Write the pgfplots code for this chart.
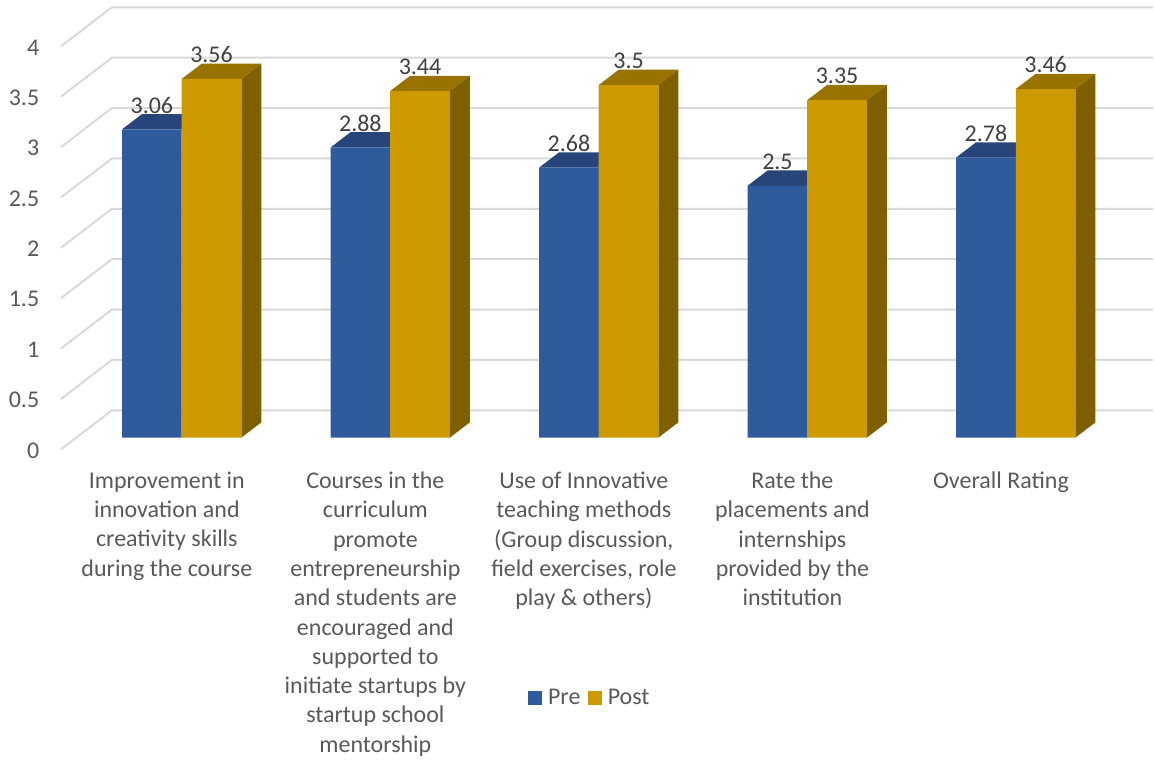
\documentclass[border=0pt]{standalone}
\usepackage{pgfplots}
\pgfplotsset{compat=1.18}
\usepackage{fontspec}
\setmainfont{Carlito}
\definecolor{preF}{HTML}{305A9E}
\definecolor{preT}{HTML}{27457A}
\definecolor{postF}{HTML}{CC9900}
\definecolor{postT}{HTML}{997300}
\definecolor{postS}{HTML}{7F6000}
\definecolor{gridc}{HTML}{D9D9D9}
\definecolor{tickc}{HTML}{595959}
\definecolor{labc}{HTML}{404040}
\newcommand\topface[3]{%
  \pgfmathsetmacro\xa{#1-29.85}\pgfmathsetmacro\xb{#1+29.85}%
  \pgfmathsetmacro\xc{#1+49.85}\pgfmathsetmacro\xd{#1-9.85}%
  \pgfmathsetmacro\yb{#2+0.1516}%
  \edef\temp{\noexpand\addplot[forget plot,fill=#3,draw=none] coordinates {(\xa,#2) (\xb,#2) (\xc,\yb) (\xd,\yb)} --cycle;}\temp}
\newcommand\sideface[3]{%
  \pgfmathsetmacro\xb{#1+29.85}\pgfmathsetmacro\xc{#1+49.85}%
  \pgfmathsetmacro\yb{#2+0.1516}%
  \edef\temp{\noexpand\addplot[forget plot,fill=#3,draw=none] coordinates {(\xb,0) (\xc,0.1516) (\xc,\yb) (\xb,#2)} --cycle;}\temp}
\newcommand\gl[2]{\addplot[forget plot,gridc,line width=1.5pt] coordinates {(61,#1) (112,#2) (1154,#2)};}
\begin{document}
\begin{tikzpicture}
\begin{axis}[
  scale only axis, width=865.5pt, height=570pt,
  xmin=0, xmax=1154, ymin=-3.1933, ymax=4.3439,
  clip=false,
  axis line style={draw=none},
  major tick length=0pt,
  tick style={draw=none},
  bar shift=0pt,
  /pgf/number format/assume math mode=true,
  ytick={0,0.5,1,1.5,2,2.5,3,3.5,4},
  yticklabels={0,0.5,1,1.5,2,2.5,3,3.5,4},
  yticklabel style={anchor=east,inner sep=0pt,xshift=29.6pt,yshift=-9.6pt,text=tickc,font=\fontsize{18}{22}\selectfont},
  xtick={167,375.7,584.4,793.1,1001.8},
  xticklabels={
    {Improvement in\\innovation and\\creativity skills\\during the course},
    {Courses in the\\curriculum\\promote\\entrepreneurship\\and students are\\encouraged and\\supported to\\initiate startups by\\startup school\\mentorship},
    {Use of Innovative\\teaching methods\\(Group discussion,\\field exercises, role\\play \& others)},
    {Rate the\\placements and\\internships\\provided by the\\institution},
    {Overall Rating}},
  xticklabel style={anchor=north,align=center,inner sep=0pt,yshift=216pt,text=tickc,font=\fontsize{18}{22}\selectfont},
  legend style={at={(0.5118,0.0807)},anchor=center,draw=none,fill=none,legend columns=2,
    font=\fontsize{18}{22}\selectfont,text=tickc,
    /tikz/every odd column/.append style={column sep=2.5pt},
    /tikz/every even column/.append style={column sep=3.5pt}},
  legend cell align=left,
  every node near coord/.append style={anchor=center,yshift=18.2pt,text=labc,font=\fontsize{18}{22}\selectfont},
]
% grid of the back wall and left wall
\gl{-0.116}{0.271}
\gl{0.384}{0.771}
\gl{0.884}{1.271}
\gl{1.384}{1.771}
\gl{1.884}{2.271}
\gl{2.384}{2.771}
\gl{2.884}{3.271}
\gl{3.384}{3.771}
\gl{3.884}{4.271}
% Pre tops
\topface{152}{3.06}{preT}
\topface{360.7}{2.88}{preT}
\topface{569.4}{2.68}{preT}
\topface{778.1}{2.5}{preT}
\topface{986.8}{2.78}{preT}
% Pre
\addplot[ybar,bar width=44.8pt,fill=preF,draw=none,
  legend image code/.code={\fill[preF] (0pt,-5.2pt) rectangle (10.5pt,5.3pt);},
  nodes near coords={\pgfmathprintnumber[precision=2]{\pgfplotspointmeta}}]
  coordinates {(152,3.06) (360.7,2.88) (569.4,2.68) (778.1,2.5) (986.8,2.78)};
\addlegendentry{Pre}
% Post tops and sides
\topface{211.7}{3.56}{postT}
\topface{420.4}{3.44}{postT}
\topface{629.1}{3.5}{postT}
\topface{837.8}{3.35}{postT}
\topface{1046.5}{3.46}{postT}
\sideface{211.7}{3.56}{postS}
\sideface{420.4}{3.44}{postS}
\sideface{629.1}{3.5}{postS}
\sideface{837.8}{3.35}{postS}
\sideface{1046.5}{3.46}{postS}
% Post
\addplot[ybar,bar width=44.8pt,fill=postF,draw=none,
  legend image code/.code={\fill[postF] (0pt,-5.2pt) rectangle (10.5pt,5.3pt);},
  nodes near coords={\pgfmathprintnumber[precision=2]{\pgfplotspointmeta}}]
  coordinates {(211.7,3.56) (420.4,3.44) (629.1,3.5) (837.8,3.35) (1046.5,3.46)};
\addlegendentry{Post}
\end{axis}
\end{tikzpicture}
\end{document}
